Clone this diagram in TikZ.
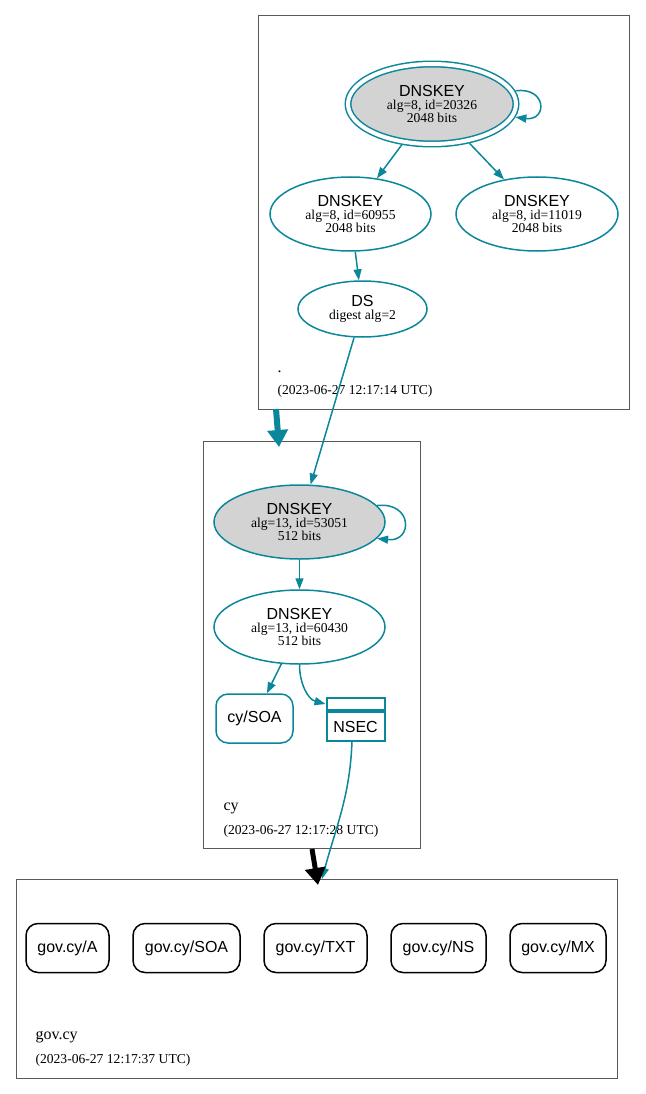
\documentclass[tikz,border=0pt]{standalone}
\usepackage{fontspec}
\setmainfont{Liberation Serif}
\setsansfont{Liberation Sans}
\usetikzlibrary{shapes.geometric,arrows.meta}
\definecolor{dnsteal}{HTML}{0A879A}
\definecolor{keygray}{HTML}{D3D3D3}
\newcommand{\keyhd}[1]{{\sffamily\fontsize{16}{16}\selectfont #1}}

\begin{document}
\begin{tikzpicture}
	[x=1pt, y=1pt,
	key/.style = {draw=dnsteal, ellipse, line width=1.5pt, inner sep=0pt, align=center,
		font=\fontsize{13.6}{13}\selectfont},
	ksk/.style = {key, fill=keygray},
	rrset/.style = {draw=dnsteal, rounded corners=12pt, line width=1.5pt, inner sep=0pt,
		minimum height=49pt, font=\sffamily\fontsize{16}{16}\selectfont},
	plainset/.style = {rrset, draw=black},
	nsecbox/.style = {draw=dnsteal, line width=2pt, inner sep=0pt, minimum width=58pt,
		font=\sffamily\fontsize{16}{16}\selectfont},
	edge/.style = {draw=dnsteal, line width=1.5pt, -{Triangle[length=11pt,width=8pt]}},
	deleg/.style = {line width=6pt, -{Triangle[length=17pt,width=20pt]}},
	zone/.style = {draw=black!65, line width=0.8pt},
	zonename/.style = {anchor=base west, font=\fontsize{16}{16}\selectfont},
	zonedate/.style = {anchor=base west, font=\fontsize{13.6}{13}\selectfont}]
\useasboundingbox (0,0) rectangle (645,-1094);

% zone .
\draw[zone] (258,-15) rectangle (629,-409);
\node[ksk, double=white, double distance=4pt, outer sep=3.5pt,
	minimum width=168pt, minimum height=80pt] (k20326) at (432,-104)
	{\keyhd{DNSKEY}\\alg=8, id=20326\\2048 bits};
\node[key, minimum width=161pt, minimum height=74pt] (k60955) at (350.5,-214)
	{\keyhd{DNSKEY}\\alg=8, id=60955\\2048 bits};
\node[key, minimum width=162pt, minimum height=74pt] (k11019) at (537,-214)
	{\keyhd{DNSKEY}\\alg=8, id=11019\\2048 bits};
\node[key, minimum width=129pt, minimum height=56pt] (ds) at (362.5,-309)
	{\keyhd{DS}\\digest alg=2};
\node[zonename] (nroot) at (274,-372) {.};
\node[zonedate] (droot) at (274,-394) {(2023-06-27 12:17:14 UTC)};

% zone cy
\draw[zone] (203,-441) rectangle (420,-848);
\node[ksk, minimum width=171pt, minimum height=74pt] (k53051) at (299.5,-522)
	{\keyhd{DNSKEY}\\alg=13, id=53051\\512 bits};
\node[key, minimum width=171pt, minimum height=74pt] (k60430) at (299.5,-627)
	{\keyhd{DNSKEY}\\alg=13, id=60430\\512 bits};
\node[rrset, minimum width=77pt] (cysoa) at (254.5,-718.5) {cy/SOA};
\node[nsecbox, minimum height=12pt] (nsechd) at (355.5,-704) {};
\node[nsecbox, minimum height=29pt, anchor=north] (nsec) at (nsechd.south) {NSEC};
\node[zonename] (ncy) at (220,-810) {cy};
\node[zonedate] (dcy) at (220,-834) {(2023-06-27 12:17:28 UTC)};

% zone gov.cy
\draw[zone] (16,-879) rectangle (617,-1078);
\node[plainset, minimum width=83pt] (gova) at (67.5,-948) {gov.cy/A};
\node[plainset, minimum width=107pt] (govsoa) at (186.5,-948) {gov.cy/SOA};
\node[plainset, minimum width=103pt] (govtxt) at (315.5,-948) {gov.cy/TXT};
\node[plainset, minimum width=95pt] (govns) at (438.5,-948) {gov.cy/NS};
\node[plainset, minimum width=96pt] (govmx) at (558,-948) {gov.cy/MX};
\node[zonename] (ngov) at (32,-1039) {gov.cy};
\node[zonedate] (dgov) at (32,-1063) {(2023-06-27 12:17:37 UTC)};

\coordinate (rootout) at (276,-409);
\coordinate (cyin) at (279,-447);
\coordinate (cyout) at (312,-849);
\coordinate (govin) at (318,-885);
\coordinate (govtop) at (322,-879);
\coordinate (nsecout) at (352,-741);

\draw[edge] (k20326.9) .. controls +(32,4) and +(32,-4) .. (k20326.-9);
\draw[edge] (k20326) -- (k60955);
\draw[edge] (k20326) -- (k11019);
\draw[edge] (k60955) -- (ds);
\draw[edge] (ds) -- (k53051);
\draw[edge] (k53051.12) .. controls +(36,4) and +(36,-4) .. (k53051.-12);
\draw[edge] (k53051) -- (k60430);
\draw[edge] (k60430) -- (cysoa);
\draw[edge] (k60430.270) to[out=-90, in=165] (nsechd.west);
\draw[edge] (nsecout) to[out=-92, in=75] (govtop);
\draw[deleg, dnsteal] (rootout) -- (cyin);
\draw[deleg, black, line width=5pt] (cyout) -- (govin);
\end{tikzpicture}
\end{document}
